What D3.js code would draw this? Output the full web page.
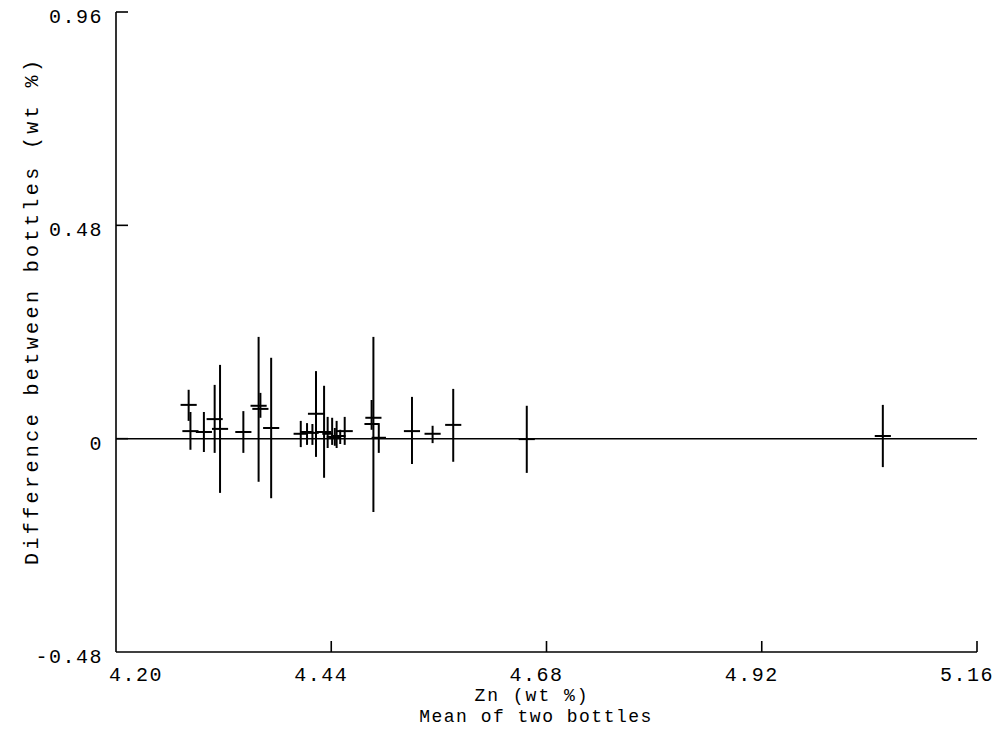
<!DOCTYPE html>
<html>
<head>
<meta charset="utf-8">
<script src="https://cdn.jsdelivr.net/npm/d3@7"></script>
<style>
  body { margin: 0; background: #fff; }
  text { font-family: "Liberation Mono", "DejaVu Sans Mono", monospace; fill: #000; }
</style>
</head>
<body>
<svg width="1003" height="754"></svg>
<script>
// tick values
var xTicks = [4.20, 4.44, 4.68, 4.92, 5.16];
var yTicks = [-0.48, 0, 0.48, 0.96];
var xTickLabels = ['4.20', '4.44', '4.68', '4.92', '5.16'];
var yTickLabels = ['-0.48', '0', '0.48', '0.96'];

// each cross: mean of two bottles, difference, half width, low and high of the vertical bar
var meanZn = [4.281, 4.283, 4.298, 4.310, 4.316, 4.342, 4.359, 4.361, 4.373, 4.406,
              4.413, 4.419, 4.423, 4.432, 4.436, 4.441, 4.446, 4.455, 4.444, 4.450,
              4.487, 4.485, 4.493, 4.530, 4.553, 4.576, 4.658, 5.055];
var diff = [0.076, 0.017, 0.015, 0.044, 0.022, 0.015, 0.074, 0.067, 0.024, 0.011,
            0.015, 0.013, 0.056, 0.015, 0.011, 0.004, 0.006, 0.017, 0.002, 0.006,
            0.047, 0.033, 0.002, 0.017, 0.011, 0.031, -0.001, 0.006];
var halfW = [0.009, 0.009, 0.009, 0.009, 0.009, 0.009, 0.009, 0.009, 0.009, 0.008,
             0.007, 0.007, 0.009, 0.008, 0.006, 0.006, 0.006, 0.009, 0.006, 0.006,
             0.009, 0.008, 0.008, 0.009, 0.009, 0.009, 0.009, 0.009];
var lowV = [0.040, -0.025, -0.030, -0.032, -0.122, -0.032, -0.097, 0.047, -0.134, -0.019,
            -0.014, -0.014, -0.041, -0.088, -0.021, -0.014, -0.021, -0.014, -0.016, -0.012,
            -0.165, 0.020, -0.032, -0.057, -0.010, -0.052, -0.077, -0.064];
var highV = [0.110, 0.060, 0.060, 0.121, 0.166, 0.062, 0.229, 0.103, 0.182, 0.040,
             0.035, 0.033, 0.152, 0.119, 0.049, 0.047, 0.040, 0.049, 0.024, 0.020,
             0.229, 0.087, 0.035, 0.094, 0.029, 0.112, 0.074, 0.076];

var points = meanZn.map(function (m, i) {
    return {x: m, y: diff[i], w: halfW[i], lo: lowV[i], hi: highV[i]};
});

var svg = d3.select('svg');
var x = d3.scaleLinear().domain([4.20, 5.16]).range([116, 977]);
var y = d3.scaleLinear().domain([-0.48, 0.96]).range([652, 12]);

// frame: left axis and bottom axis
svg.append('line')
    .attr('x1', x(4.20)).attr('x2', x(4.20))
    .attr('y1', y(0.96)).attr('y2', y(-0.48))
    .attr('stroke', '#000').attr('stroke-width', 1.6);
svg.append('line')
    .attr('x1', x(4.20)).attr('x2', x(5.16))
    .attr('y1', y(-0.48)).attr('y2', y(-0.48))
    .attr('stroke', '#000').attr('stroke-width', 1.6);

// zero line
svg.append('line')
    .attr('x1', x(4.20)).attr('x2', x(5.16))
    .attr('y1', y(0)).attr('y2', y(0))
    .attr('stroke', '#000').attr('stroke-width', 1.5);

// ticks pointing inward
svg.selectAll('.yt').data(yTicks.slice(1)).enter().append('line')
    .attr('x1', x(4.20)).attr('x2', x(4.20) + 12)
    .attr('y1', function (d) { return y(d); }).attr('y2', function (d) { return y(d); })
    .attr('stroke', '#000').attr('stroke-width', 1.6);
svg.selectAll('.xt').data(xTicks.slice(1)).enter().append('line')
    .attr('x1', function (d) { return x(d); }).attr('x2', function (d) { return x(d); })
    .attr('y1', y(-0.48)).attr('y2', y(-0.48) - 11)
    .attr('stroke', '#000').attr('stroke-width', 1.6);

// tick labels
svg.selectAll('.yl').data(yTicks).enter().append('text')
    .attr('x', 103)
    .attr('y', function (d) { return y(d) + 11; })
    .attr('text-anchor', 'end')
    .style('font-size', '20px').style('letter-spacing', '1.5px')
    .text(function (d, i) { return yTickLabels[i]; });
svg.selectAll('.xl').data(xTicks).enter().append('text')
    .attr('x', function (d, i) { return i === 0 ? x(d) + 20 : x(d) - 10; })
    .attr('y', 681)
    .attr('text-anchor', 'middle')
    .style('font-size', '20px').style('letter-spacing', '1.5px')
    .text(function (d, i) { return xTickLabels[i]; });

// axis titles
svg.append('text')
    .attr('x', 532).attr('y', 701)
    .attr('text-anchor', 'middle')
    .style('font-size', '18px').style('letter-spacing', '2px')
    .text('Zn (wt %)');
svg.append('text')
    .attr('x', 536).attr('y', 722)
    .attr('text-anchor', 'middle')
    .style('font-size', '18px').style('letter-spacing', '1.5px')
    .text('Mean of two bottles');
svg.append('text')
    .attr('transform', 'translate(38,565) rotate(-90)')
    .attr('text-anchor', 'start')
    .attr('textLength', 505)
    .attr('lengthAdjust', 'spacing')
    .style('font-size', '20px')
    .text('Difference between bottles (wt %)');

// crosses
var g = svg.append('g').attr('stroke', '#000').attr('stroke-width', 2);
g.selectAll('.v').data(points).enter().append('line')
    .attr('x1', function (d) { return x(d.x); }).attr('x2', function (d) { return x(d.x); })
    .attr('y1', function (d) { return y(d.hi); }).attr('y2', function (d) { return y(d.lo); });
g.selectAll('.h').data(points).enter().append('line')
    .attr('x1', function (d) { return x(d.x - d.w); }).attr('x2', function (d) { return x(d.x + d.w); })
    .attr('y1', function (d) { return y(d.y); }).attr('y2', function (d) { return y(d.y); });
</script>
</body>
</html>
